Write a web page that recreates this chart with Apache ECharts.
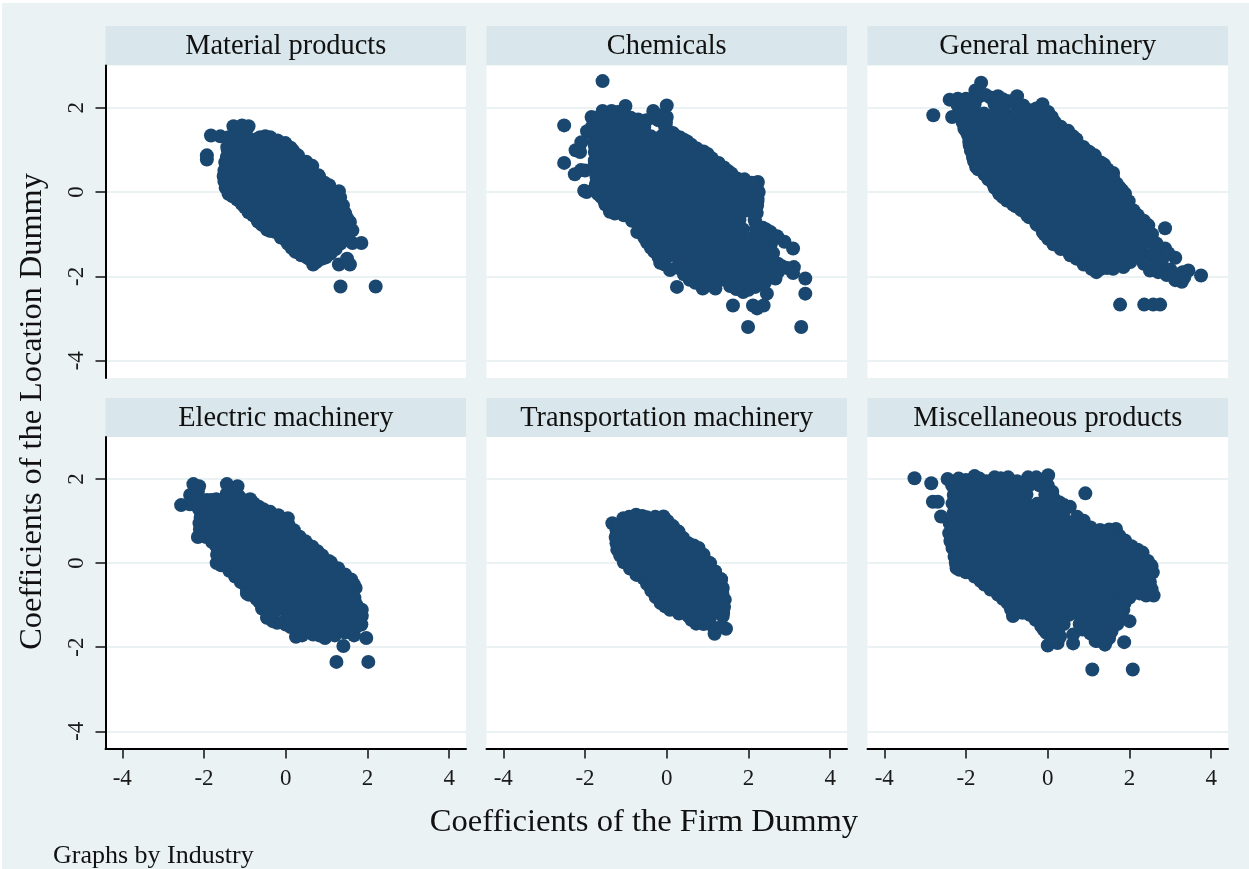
<!DOCTYPE html>
<html>
<head>
<meta charset="utf-8">
<title>Coefficients by industry</title>
<script src="https://cdn.jsdelivr.net/npm/echarts@6/dist/echarts.min.js"></script>
<style>
  html, body { margin: 0; padding: 0; background: #ffffff; }
  #chart { width: 1249px; height: 869px; }
</style>
</head>
<body>
<div id="chart"></div>
<script>
const industries = ["Material products", "Chemicals", "General machinery",
  "Electric machinery", "Transportation machinery", "Miscellaneous products"];
const tickValues = [-4, -2, 0, 2, 4];
const yTickValues = [-4, -2, 0, 2];

// every panel: the outline points read off the picture, then the inside of the cloud
// inside rows are [y, x, x, x, ...]
const materialEdge = [[-1.93,.87],[-1.93,.77],[1.34,-2.24],[2.2,-2.24],[1.3,-1.72],[1.5,-1.58],[1.57,-1.72],[1.85,-1.21],[1.63,-1.21],
  [-1.83,1.34],[-1.6,1.32],[-1.28,1.56],[-1.07,1.58],[-.91,1.56],[-1.2,1.38],[-.5,1.32],[-.38,1.3],[-.01,1.16],[.3,.87],[.65,.62],[1.06,.16],[1.3,.02],[1.33,-.13],[1.57,-.71],[1.63,-.91],
  [-1.44,.83],[-1.5,.51],[-1.4,-.04],[-1.19,-.18],[-.91,-.45],[-.46,-.89],[-.25,-.95],[.05,-1.22],[.24,-1.42],[.56,-1.58],[.67,-1.72],[.89,-1.58],[1.1,-1.46],[1.34,-1.22],[1.45,-.5],
  [-1.48,.7],[-1.52,.38],[-1.5,.25],[-1.47,.1],[-1.3,-.1],[-1.08,-.28],[-1,-.36],[-.8,-.55],[-.7,-.64],[-.58,-.78],[-.35,-.92],[-.12,-1.08],[.14,-1.32],[.38,-1.5],[.75,-1.66],[1,-1.52],[1.22,-1.35],[1.4,-1.05],[1.52,-.82],[1.5,-.62],[1.4,-.32],[1.22,-.05],[.95,.22],[.82,.36],[.5,.72],[.18,.98],[.12,1.05],[-.2,1.22],[-.7,1.25],[-.62,1.3],[-1,1.42],[-1.4,1.3],[-1.35,1.22],[-1.42,1],[-.15,1.02]];
const materialRows = [
  [1.28,-1.43,-1.17,-.91,-.65,-.39],
  [1.06,-1.43,-1.3,-1.04,-.78,-.52,-.26,-.12],
  [.84,-1.43,-1.17,-.91,-.65,-.39,-.13,.13,.26],
  [.62,-1.46,-1.3,-1.04,-.78,-.52,-.26,0,.26,.52],
  [.4,-1.46,-1.17,-.91,-.65,-.39,-.13,.13,.39,.65,.8],
  [.18,-1.45,-1.3,-1.04,-.78,-.52,-.26,0,.26,.52,.78,.98],
  [-.04,-1.38,-1.17,-.91,-.65,-.39,-.13,.13,.39,.65,.91,1.17],
  [-.26,-1.04,-.78,-.52,-.26,0,.26,.52,.78,1.04,1.3],
  [-.48,-.91,-.65,-.39,-.13,.13,.39,.65,.91,1.17,1.4],
  [-.7,-.68,-.52,-.26,0,.26,.52,.78,1.04,1.3,1.48],
  [-.92,-.39,-.13,.13,.39,.65,.91,1.17,1.43],
  [-1.14,0,.26,.52,.78,1.04,1.3],
  [-1.36,.21,.39,.65,.91,1.12],
  [-1.55,.52,.78,.98]
];

const chemicalsEdge = [[-1.57,2.63],[-2.51,1.58],[-2.51,.69],[-2.25,.42],[-2,.51],[-1.96,0],[-2.02,.03],[-2.23,.99],[-2.09,1.18],[-1.95,1.44],[-2.12,.95],[-2.1,.52],[-1.9,1.42],
  [-1.84,1.78],[-1.57,1.92],[-1.35,1.92],[-1.01,2.04],[-.86,1.74],[-.33,1.92],[0,2.05],[0,1.78],[-.02,1.54],[-.18,1.82],
  [.33,1.29],[.74,1.03],[1.27,.69],[1.72,.32],[2.23,.24],[2.25,0],[2.21,-.32],[2.17,-.71],[2.54,-.95],[2.88,-1.18],[3.09,-1.34],[2.54,-1.26],[2.54,-1.58],[3.11,-1.78],[2.82,-1.76],[3.09,-1.92],[3.39,-2.05],[3.39,-2.41],[2.66,-2.05],[2.45,-2.41],[2.37,-2.69],[2.21,-2.76],[2.11,-2.69],[1.62,-2.69],[1.99,-3.2],[3.29,-3.2],
  [1.87,-2.37],[2.17,-2.25],[1.55,-2.23],[1.19,-2.29],[.88,-2.29],[.25,-2.25],[.56,-2.08],[.25,-1.79],[-.16,-1.68],[-.41,-1.24],[-.67,-.87],[-1.27,-.51],[-1.39,-.47],[-1.6,-.12],[-1.72,.36],[-1.76,.75],[-1.76,1.18],[.08,-1.85],[1.9,.3],[2.05,.2],[1,.9],[.5,1.2],[-1.82,1.56],
  [-1.76,.95],[-1.76,.55],[-1.74,.15],[-1.68,-.05],[-1.5,-.3],[-1.4,-.4],[-1.05,-.55],[-.85,-.68],[-.72,-.95],[-.55,-1.08],[-.48,-1.2],[-.3,-1.42],[-.05,-1.72],[.42,-1.95],[.7,-2.15],[1,-2.22],[1.4,-2.08],[1.7,-2.3],[2,-2.32],[2.4,-2.15],[2.72,-1.9],[2.95,-1.8],[2.72,-1.7],[2.6,-1.45],[2.65,-1.1],[2.7,-1.05],[2.35,-.85],[2.3,-.95],[2.2,-.5],[2.22,-.15],[2.2,.12],[1.88,.22],[1.5,.5],[1.4,.58],[1.1,.8],[.9,.96],[.6,1.12],[.42,1.24],[.15,1.4],[-.02,1.65],[-.2,1.7],[-.5,1.7],[-.7,1.72],[-1.1,1.85],[-1.2,1.9],[-1.72,1.72],[-1.78,1.3],[2,-1.3],[2.25,-1.7],[2.42,-1.85]];
const chemicalsRows = [
  [1.76,-1.69,-1.43,-1.17,-.88,-.34,-.06],
  [1.54,-1.72,-1.56,-1.3,-1.04,-.78,-.55,-.04],
  [1.32,-1.69,-1.43,-1.17,-.91,-.65,-.39,-.13,.13,.24],
  [1.1,-1.76,-1.56,-1.3,-1.04,-.78,-.52,-.26,0,.26,.52],
  [.88,-1.69,-1.43,-1.17,-.91,-.65,-.39,-.13,.13,.39,.65,.88],
  [.66,-1.76,-1.56,-1.3,-1.04,-.78,-.52,-.26,0,.26,.52,.78,1.04,1.24],
  [.44,-1.69,-1.43,-1.17,-.91,-.65,-.39,-.13,.13,.39,.65,.91,1.17,1.43,1.58],
  [.22,-1.72,-1.56,-1.3,-1.04,-.78,-.52,-.26,0,.26,.52,.78,1.04,1.3,1.56,1.82,2.08],
  [0,-1.68,-1.43,-1.17,-.91,-.65,-.39,-.13,.13,.39,.65,.91,1.17,1.43,1.69,1.95,2.2],
  [-.22,-1.52,-1.3,-1.04,-.78,-.52,-.26,0,.26,.52,.78,1.04,1.3,1.56,1.82,2.08,2.22],
  [-.44,-1.3,-1.17,-.91,-.65,-.39,-.13,.13,.39,.65,.91,1.17,1.43,1.69,1.95,2.18],
  [-.66,-.78,-.52,-.26,0,.26,.52,.78,1.04,1.3,1.56,1.78,2.15],
  [-.88,-.65,-.39,-.13,.13,.39,.65,.91,1.17,1.43,1.69,1.86,2.18,2.42],
  [-1.1,-.52,-.26,0,.26,.52,.78,1.04,1.3,1.56,1.82,2.08,2.34,2.5],
  [-1.32,-.39,-.13,.13,.39,.65,.91,1.17,1.43,1.69,1.95,2.21,2.38],
  [-1.54,-.2,0,.26,.52,.78,1.04,1.3,1.56,1.82,2.08,2.34,2.56],
  [-1.76,.32,.52,.78,1.04,1.3,1.56,1.82,2.08,2.34,2.6],
  [-1.98,.65,.91,1.17,1.43,1.69,1.95,2.21,2.47,2.62],
  [-2.18,1.17,1.56,1.82,2.08]
];

const generalEdge = [[-2.8,1.82],[-2.34,1.78],[-2.4,2.19],[-2.2,2.21],[-2,2.21],[-1.77,2.41],[-1.63,2.59],[-1.22,2.27],[-1.4,2.24],[-.75,2.27],[-.44,1.94],[-.13,2.08],[.01,1.9],[.17,1.66],[.5,1.45],[.87,1.07],[1.15,.87],[1.6,.45],[1.89,-.04],[1.69,.2],[2.2,-.55],[2.46,-.79],[2.87,-.86],[2.87,-1.34],[3.12,-1.56],[3.44,-1.86],[3.75,-1.98],[3.28,-2.13],[3.12,-2.09],[2.91,-1.97],[2.5,-1.86],[2.63,-1.58],[2.18,-1.5],[1.85,-1.78],[1.6,-1.82],[1.19,-1.9],[1.07,-1.82],[.7,-1.58],[.01,-1.11],[-.28,-.75],[-.65,-.43],[-1.19,-.04],[-1.34,.2],[-1.75,.59],[-1.83,.83],[-1.91,1.11],[-2.04,1.5],[1.77,-2.67],[2.36,-2.67],[2.58,-2.67],[2.75,-2.67],[2.7,-1.36],[3.3,-1.9],[3.34,-2.02],[3,-1.84],[2.76,-1.72],
  [-2.2,2.05],[-2.12,2],[-2.1,1.75],[-1.95,1.35],[-1.88,.98],[-1.8,.72],[-1.55,.42],[-1.45,.3],[-1.26,.08],[-1,-.2],[-.85,-.3],[-.45,-.6],[-.12,-.95],[.14,-1.24],[.32,-1.35],[.55,-1.5],[.88,-1.72],[1.3,-1.82],[1.45,-1.8],[2,-1.65],[2.1,-1.55],[2.4,-1.5],[2.35,-1.7],[2.7,-1.9],[2.8,-1.6],[2.95,-1.45],[2.6,-1.25],[2.55,-1],[2.35,-.68],[2.1,-.44],[1.98,-.22],[1.82,.04],[1.75,.1],[1.38,.65],[1.3,.7],[1.02,.95],[.7,1.25],[.62,1.32],[.32,1.55],[.1,1.78],[-.28,1.98],[-.6,2.05],[-.95,2.15],[-1.52,2.3],[-1.7,2.25],[-1.1,2.2]];
const generalRows = [
  [2.08,-2.21,-1.95,-1.79,-1.3,-1.04,-.78],
  [1.86,-2.08,-1.82,-1.56,-1.3,-1.04,-.78,-.52,-.26,-.04],
  [1.64,-2.08,-1.95,-1.69,-1.43,-1.17,-.91,-.65,-.39,-.13,.12],
  [1.42,-1.98,-1.82,-1.56,-1.3,-1.04,-.78,-.52,-.26,0,.26,.46],
  [1.2,-1.92,-1.69,-1.43,-1.17,-.91,-.65,-.39,-.13,.13,.39,.65],
  [.98,-1.86,-1.56,-1.3,-1.04,-.78,-.52,-.26,0,.26,.52,.78,.96],
  [.76,-1.8,-1.69,-1.43,-1.17,-.91,-.65,-.39,-.13,.13,.39,.65,.91,1.17],
  [.54,-1.7,-1.56,-1.3,-1.04,-.78,-.52,-.26,0,.26,.52,.78,1.04,1.3,1.46],
  [.32,-1.46,-1.17,-.91,-.65,-.39,-.13,.13,.39,.65,.91,1.17,1.43,1.6],
  [.1,-1.3,-1.04,-.78,-.52,-.26,0,.26,.52,.78,1.04,1.3,1.56,1.76],
  [-.12,-1.1,-.91,-.65,-.39,-.13,.13,.39,.65,.91,1.17,1.43,1.69,1.86],
  [-.34,-.78,-.52,-.26,0,.26,.52,.78,1.04,1.3,1.56,1.82,1.96],
  [-.56,-.5,-.39,-.13,.13,.39,.65,.91,1.17,1.43,1.69,1.95,2.16],
  [-.78,-.26,0,.26,.52,.78,1.04,1.3,1.56,1.82,2.08,2.34,2.44],
  [-1,-.08,.13,.39,.65,.91,1.17,1.43,1.69,1.95,2.21,2.5],
  [-1.22,.14,.26,.52,.78,1.04,1.3,1.56,1.82,2.08,2.34,2.66],
  [-1.44,.52,.65,.91,1.17,1.43,1.69,1.95,2.21,2.6],
  [-1.66,.9,1.04,1.3,1.56,1.82,2.02]
];

const electricEdge = [[-2.56,1.38],[-2.34,1.62],[-2.26,1.88],[-2.12,1.83],[-1.44,1.88],[-1.18,1.83],[-1.44,1.66],[-1.93,1.5],[-2.3,1.5],[-.87,1.52],[-.66,1.34],[-.38,1.22],[.05,1.07],[.07,.91],[.34,.63],[.65,.39],[.89,.18],[1.28,-.12],[1.6,-.39],[1.71,-.59],[1.63,-.71],[1.86,-1.11],[1.86,-1.26],[1.85,-1.46],[1.97,-1.78],[1.41,-1.97],[1.67,-1.72],[1.24,-2.35],[2.02,-2.35],[.96,-1.78],[.67,-1.7],[.25,-1.75],[0,-1.46],[-.21,-1.42],[-.46,-1.3],[-.91,-.75],[-.95,-.63],[-1.24,-.32],[-1.69,0],[-1.69,.39],[-2.15,.62],[-2.11,.95],
  [-2.2,1.38],[-2.35,1.4],[-2.15,1.7],[-1.7,1.52],[-2.08,1.1],[-2.1,.8],[-2.05,.65],[-1.8,.5],[-1.68,.2],[-1.58,-.05],[-1.38,-.18],[-1.1,-.45],[-.95,-.72],[-.72,-.85],[-.58,-1.08],[-.32,-1.38],[.12,-1.52],[.4,-1.72],[.82,-1.72],[1.2,-1.72],[1.45,-1.65],[1.75,-1.5],[1.8,-1.3],[1.72,-.98],[1.68,-.82],[1.66,-.5],[1.45,-.27],[1.1,.02],[1.05,.05],[.78,.28],[.48,.52],[.2,.78],[-.12,1.02],[-.18,1.14],[-.55,1.28],[-.78,1.42],[-1.15,1.6],[-1.3,1.72]];
const electricRows = [
  [1.5,-2.08,-1.82,-1.56,-1.3,-1.04],
  [1.28,-2.12,-1.95,-1.69,-1.43,-1.17,-.91,-.68],
  [1.06,-2.08,-1.82,-1.56,-1.3,-1.04,-.78,-.52,-.24],
  [.84,-2.02,-1.95,-1.69,-1.43,-1.17,-.91,-.65,-.39,-.13,.06],
  [.62,-1.95,-1.82,-1.56,-1.3,-1.04,-.78,-.52,-.26,0,.26],
  [.4,-1.69,-1.43,-1.17,-.91,-.65,-.39,-.13,.13,.39,.6],
  [.18,-1.6,-1.3,-1.04,-.78,-.52,-.26,0,.26,.52,.78,.86],
  [-.04,-1.46,-1.17,-.91,-.65,-.39,-.13,.13,.39,.65,.91,1.1],
  [-.26,-1.2,-1.04,-.78,-.52,-.26,0,.26,.52,.78,1.04,1.3],
  [-.48,-1.02,-.91,-.65,-.39,-.13,.13,.39,.65,.91,1.17,1.43,1.56],
  [-.7,-.84,-.52,-.26,0,.26,.52,.78,1.04,1.3,1.56],
  [-.92,-.65,-.39,-.13,.13,.39,.65,.91,1.17,1.43,1.62],
  [-1.14,-.44,-.26,0,.26,.52,.78,1.04,1.3,1.56,1.76],
  [-1.36,0,.13,.39,.65,.91,1.17,1.43,1.69],
  [-1.58,.39,.52,.78,1.04,1.3,1.56]
];

const transportEdge = [[-1.33,.95],[-1.06,1.07],[-.75,1.15],[-.49,1.09],[-.08,1.11],[.02,1],[.29,.75],[.53,.47],[.78,.36],[1.06,0],[1.33,-.38],[1.37,-.59],[1.42,-.87],[1.37,-1.26],[1.45,-1.56],[1.17,-1.68],[1.15,-1.54],[1.35,-1.5],[.72,-1.44],[.53,-1.26],[.08,-1.11],[-.04,-1.03],[-.27,-.81],[-.57,-.36],[-.74,-.28],[-1.05,.02],[-1.21,.32],[-1.23,.47],[-1.23,.79],[.9,-1.45],
  [-1.2,.88],[-.92,1.1],[-.6,1.12],[-.28,1.1],[.15,.88],[.4,.6],[.66,.42],[.9,.2],[1.18,-.2],[1.36,-.72],[1.4,-1.05],[1.38,-1.18],[1,-1.38],[.6,-1.35],[.3,-1.2],[-.15,-.95],[-.38,-.65],[-.48,-.5],[-.9,-.13],[-1.14,.18],[-1.25,.62]];
const transportRows = [
  [.9,-1.17,-.91,-.65,-.39,-.13],
  [.68,-1.18,-1.04,-.78,-.52,-.26,0,.24],
  [.46,-1.17,-.91,-.65,-.39,-.13,.13,.39,.5],
  [.24,-1.04,-.78,-.52,-.26,0,.26,.52,.78],
  [.02,-.91,-.65,-.39,-.13,.13,.39,.65,.91,1],
  [-.2,-.62,-.52,-.26,0,.26,.52,.78,1.04,1.18],
  [-.42,-.39,-.13,.13,.39,.65,.91,1.17,1.32],
  [-.64,-.26,0,.26,.52,.78,1.04,1.3],
  [-.86,-.13,.13,.39,.65,.91,1.17,1.36],
  [-1.08,.26,.52,.78,1.04,1.3],
  [-1.3,.65,.91,1.06]
];

const miscEdge = [[-3.26,2.02],[-2.85,1.9],[-2.81,1.46],[-2.69,1.46],[-2.61,1.11],[-2.45,2],[-2.18,2.01],[-1.79,2.07],[-1.67,2.01],[-1.3,2.04],[-.97,2.04],[-1.15,2.02],[-.48,2.04],[-.28,2.04],[.01,2.09],[.11,1.7],[.54,1.34],[.92,1.66],[.88,1.01],[1.28,.79],[1.67,.81],[1.89,.54],[2.32,.25],[2.54,-.08],[2.57,-.22],[2.54,-.62],[2.59,-.77],[2.41,-.77],[2.1,-.71],[1.85,-1.11],[2,-1.38],[1.87,-1.88],[1.4,-1.94],[1.09,-2.53],[2.08,-2.53],[1.56,-1.62],[.62,-1.91],[.24,-1.9],[0,-1.96],[-.03,-1.66],[-.16,-1.5],[-.85,-1.26],[-.98,-.95],[-1.22,-.75],[-1.55,-.51],[-1.79,-.32],[-2.16,-.16],[-2.23,-.12],[-2.33,.36],[-2.41,.71],[-2.33,1.42],[.62,-1.7],[.3,-1.75],[1.2,-1.85],
  [-2.3,1.62],[-2.4,.95],[-2.38,.52],[-2.28,.15],[-2.3,1.2],[-2.25,0],[-2,-.22],[-1.65,-.42],[-1.4,-.63],[-1.1,-.85],[-.9,-1.1],[-.62,-1.18],[-.3,-1.35],[-.1,-1.58],[.12,-1.85],[.85,-1.58],[1.1,-1.7],[1.3,-1.85],[1.5,-1.78],[1.7,-1.45],[1.82,-1.3],[1.88,-.95],[2,-.82],[2.25,-.72],[2.5,-.45],[2.52,-.05],[2.45,.05],[2.2,.32],[2.05,.4],[1.75,.65],[1.5,.8],[1.05,.85],[.72,1.1],[.4,1.38],[.28,1.45],[.14,1.55],[-.16,1.95],[-.65,1.9],[-1.5,1.95],[-2,1.98],[-.75,1.95]];
const miscRows = [
  [1.85,-2.34,-2.08,-1.82,-1.56,-1.3,-1.04,-.78,-.46,-.2,0],
  [1.63,-2.21,-1.95,-1.69,-1.43,-1.17,-.91,-.65,-.52,-.06,.1],
  [1.41,-2.2,-2.08,-1.82,-1.56,-1.3,-1.04,-.78,-.52,-.26,0,.2],
  [1.19,-2.21,-1.95,-1.69,-1.43,-1.17,-.91,-.65,-.39,-.13,.13,.38],
  [.97,-2.3,-2.08,-1.82,-1.56,-1.3,-1.04,-.78,-.52,-.26,0,.26,.52,.7],
  [.75,-2.21,-1.95,-1.69,-1.43,-1.17,-.91,-.65,-.39,-.13,.13,.39,.65,.91,1.17,1.43],
  [.53,-2.2,-2.08,-1.82,-1.56,-1.3,-1.04,-.78,-.52,-.26,0,.26,.52,.78,1.04,1.3,1.56,1.72],
  [.31,-2.16,-1.95,-1.69,-1.43,-1.17,-.91,-.65,-.39,-.13,.13,.39,.65,.91,1.17,1.43,1.69,1.95,2.04],
  [.09,-2.1,-1.82,-1.56,-1.3,-1.04,-.78,-.52,-.26,0,.26,.52,.78,1.04,1.3,1.56,1.82,2.08,2.34],
  [-.13,-2,-1.69,-1.43,-1.17,-.91,-.65,-.39,-.13,.13,.39,.65,.91,1.17,1.43,1.69,1.95,2.21,2.44],
  [-.35,-1.69,-1.56,-1.3,-1.04,-.78,-.52,-.26,0,.26,.52,.78,1.04,1.3,1.56,1.82,2.08,2.34,2.42],
  [-.57,-1.3,-1.17,-.91,-.65,-.39,-.13,.13,.39,.65,.91,1.17,1.43,1.69,1.95,2.21,2.38],
  [-.79,-1.04,-.78,-.52,-.26,0,.26,.52,.78,1.04,1.3,1.56,1.82,1.92],
  [-1.01,-.8,-.65,-.39,-.13,.13,.39,.65,.91,1.17,1.43,1.69,1.8],
  [-1.23,-.44,-.26,0,.26,.52,.78,1.04,1.3,1.56,1.76],
  [-1.45,-.06,.13,.39,.78,.91,1.17,1.43,1.62],
  [-1.67,0,.13,.26,1.04,1.3,1.5],
  [-1.85,.1,1.17,1.43]
];

const panelEdges = [materialEdge, chemicalsEdge, generalEdge, electricEdge, transportEdge, miscEdge];
const panelRows = [materialRows, chemicalsRows, generalRows, electricRows, transportRows, miscRows];

const rowsToPoints = rows => rows.flatMap(r => r.slice(1).map(x => [x, r[0]]));

const PANEL_LEFT = [105.5, 486.5, 867.5];
const PANEL_W = 360.5;
const PANEL_TOP = [65.5, 437];
const PANEL_H = [312.5, 311.5];
const STRIP_TOP = [26, 398];
const NAVY = "#1a476f";
const BG = "#eaf2f3";
const FONT = "'Liberation Serif', 'Times New Roman', serif";

const grids = [], xAxes = [], yAxes = [], series = [], graphics = [];

graphics.push({ type: "rect", z: -10, silent: true, shape: { x: 2, y: 3, width: 1247, height: 866 }, style: { fill: BG } });

industries.forEach((name, i) => {
  const col = i % 3, row = Math.floor(i / 3);
  grids.push({
    left: PANEL_LEFT[col], top: PANEL_TOP[row], width: PANEL_W, height: PANEL_H[row],
    show: true, backgroundColor: "#ffffff", borderWidth: 0
  });
  xAxes.push({
    gridIndex: i, type: "value", min: -4.41, max: 4.41,
    axisLine: { show: row === 1, onZero: false, lineStyle: { color: "#000", width: 2 } },
    axisTick: { show: row === 1, length: 10, customValues: tickValues, lineStyle: { color: "#111", width: 1.5 } },
    axisLabel: { show: row === 1, margin: 19, customValues: tickValues, fontFamily: FONT, fontSize: 23, color: "#1a1a1a", showMinLabel: true, showMaxLabel: true },
    splitLine: { show: false }
  });
  yAxes.push({
    gridIndex: i, type: "value", min: -4.41, max: 3,
    axisLine: { show: col === 0, onZero: false, lineStyle: { color: "#000", width: 2 } },
    axisTick: { show: col === 0, length: 10, customValues: yTickValues, lineStyle: { color: "#111", width: 1.5 } },
    axisLabel: { show: col === 0, rotate: 90, margin: 17, customValues: yTickValues, fontFamily: FONT, fontSize: 23, color: "#1a1a1a", showMinLabel: true, showMaxLabel: true },
    splitLine: { show: true, customValues: yTickValues, lineStyle: { color: BG, width: 2 } }
  });
  series.push({
    name, type: "scatter", xAxisIndex: i, yAxisIndex: i,
    data: panelEdges[i].concat(rowsToPoints(panelRows[i])),
    symbol: "circle", symbolSize: 14,
    itemStyle: { color: NAVY, opacity: 1 },
    animation: false, silent: true, large: false
  });
  graphics.push({
    type: "rect", z: -5, silent: true,
    shape: { x: PANEL_LEFT[col], y: STRIP_TOP[row], width: PANEL_W, height: PANEL_TOP[row] - STRIP_TOP[row] },
    style: { fill: "#d9e6eb" }
  });
  graphics.push({
    type: "text", z: 5, silent: true,
    x: PANEL_LEFT[col] + PANEL_W / 2, y: STRIP_TOP[row] + 20.5,
    style: { text: name, fill: "#111", font: "28.4px " + FONT, textAlign: "center", textVerticalAlign: "middle" }
  });
});

graphics.push({
  type: "text", silent: true, x: 644, y: 822,
  style: { text: "Coefficients of the Firm Dummy", fill: "#111", font: "32.6px " + FONT, textAlign: "center", textVerticalAlign: "middle" }
});
graphics.push({
  type: "text", silent: true, x: 33, y: 411.5, rotation: Math.PI / 2,
  style: { text: "Coefficients of the Location Dummy", fill: "#111", font: "32.3px " + FONT, textAlign: "center", textVerticalAlign: "middle" }
});
graphics.push({
  type: "text", silent: true, x: 53, y: 856,
  style: { text: "Graphs by Industry", fill: "#111", font: "26px " + FONT, textAlign: "left", textVerticalAlign: "middle" }
});

const chart = echarts.init(document.getElementById("chart"));
chart.setOption({
  animation: false,
  backgroundColor: "#ffffff",
  grid: grids,
  xAxis: xAxes,
  yAxis: yAxes,
  series,
  graphic: graphics
});
</script>
</body>
</html>
